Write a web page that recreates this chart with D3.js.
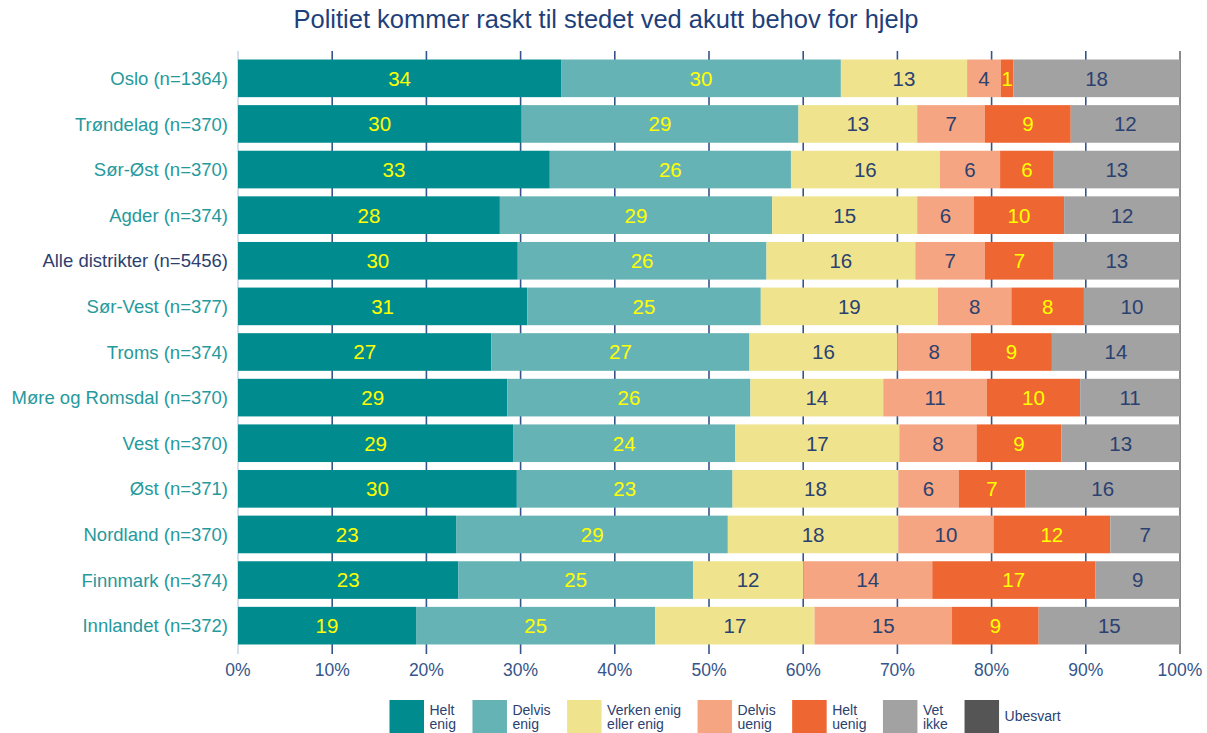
<!DOCTYPE html>
<html>
<head>
<meta charset="utf-8">
<script src="https://cdn.jsdelivr.net/npm/d3@7"></script>
<style>
  body { margin: 0; background: #fff; }
  text { font-family: "Liberation Sans", Arial, sans-serif; }
</style>
</head>
<body>
<script>
var width = 1207, height = 733;

var categories = ["Oslo (n=1364)", "Trøndelag (n=370)", "Sør-Øst (n=370)", "Agder (n=374)",
    "Alle distrikter (n=5456)", "Sør-Vest (n=377)", "Troms (n=374)", "Møre og Romsdal (n=370)",
    "Vest (n=370)", "Øst (n=371)", "Nordland (n=370)", "Finnmark (n=374)", "Innlandet (n=372)"];
var heltEnig    = [34.3, 30.1, 33.1, 27.8, 29.7, 30.7, 26.9, 28.6, 29.2, 29.6, 23.2, 23.4, 18.9];
var delvisEnig  = [29.7, 29.4, 25.6, 28.9, 26.4, 24.8, 27.4, 25.8, 23.6, 22.9, 28.8, 24.9, 25.4];
var verken      = [13.4, 12.6, 15.8, 15.4, 15.8, 18.8, 15.7, 14.1, 17.4, 17.6, 18.1, 11.7, 16.9];
var delvisUenig = [3.6, 7.2, 6.4, 6.0, 7.4, 7.8, 7.8, 11.0, 8.2, 6.4, 10.1, 13.7, 14.6];
var heltUenig   = [1.3, 9.1, 5.7, 9.6, 7.3, 7.7, 8.6, 9.9, 9.0, 7.1, 12.4, 17.3, 9.2];
var vetIkke     = [17.7, 11.6, 13.4, 12.3, 13.4, 10.2, 13.6, 10.6, 12.6, 16.4, 7.4, 9.0, 15.0];
var ubesvart    = [0, 0, 0, 0, 0, 0, 0, 0, 0, 0, 0, 0, 0];
var legendLabels = [["Helt", "enig"], ["Delvis", "enig"], ["Verken enig", "eller enig"],
    ["Delvis", "uenig"], ["Helt", "uenig"], ["Vet", "ikke"], ["Ubesvart"]];
var xTicks = [0, 10, 20, 30, 40, 50, 60, 70, 80, 90, 100];

var keys = ["heltEnig", "delvisEnig", "verken", "delvisUenig", "heltUenig", "vetIkke", "ubesvart"];
var colors = ["#008C8F", "#66B3B6", "#EFE48D", "#F5A582", "#EE6631", "#A2A2A2", "#555555"];
var labelColors = ["#FFFF00", "#FFFF00", "#2B4170", "#2B4170", "#FFFF00", "#2B4170", "#FFFFFF"];

var series = [heltEnig, delvisEnig, verken, delvisUenig, heltUenig, vetIkke, ubesvart];
var rows = categories.map(function (c, i) {
    var r = { name: c };
    keys.forEach(function (k, j) { r[k] = series[j][i]; });
    return r;
});

var svg = d3.select("body").append("svg")
    .attr("width", width)
    .attr("height", height);

svg.append("text")
    .attr("x", 606).attr("y", 28)
    .attr("text-anchor", "middle")
    .style("font-size", "25.5px")
    .style("fill", "#1F3F7A")
    .text("Politiet kommer raskt til stedet ved akutt behov for hjelp");

var x = d3.scaleLinear().domain([0, 100]).range([238, 1180]);
var y = d3.scaleBand().domain(categories).range([55.5, 648.5])
    .paddingInner(0.175).paddingOuter(0.088);

// gridlines behind the bars
svg.append("g").selectAll("line")
    .data(xTicks.slice(1))
    .enter().append("line")
    .attr("x1", function (d) { return x(d); })
    .attr("x2", function (d) { return x(d); })
    .attr("y1", 51).attr("y2", 654)
    .style("stroke", function (d) { return d === 100 ? "#6E6E6E" : "#35558A"; })
    .style("stroke-width", 1.6);

svg.append("line")
    .attr("x1", x(0)).attr("x2", x(0))
    .attr("y1", 51).attr("y2", 654)
    .style("stroke", "#C9D5E2")
    .style("stroke-width", 1.5);

var stacked = d3.stack().keys(keys)(rows);

var layers = svg.append("g").selectAll("g")
    .data(stacked)
    .enter().append("g")
    .style("fill", function (d, i) { return colors[i]; });

layers.selectAll("rect")
    .data(function (d) { return d; })
    .enter().append("rect")
    .attr("x", function (d) { return x(d[0]); })
    .attr("y", function (d) { return y(d.data.name); })
    .attr("width", function (d) { return x(d[1]) - x(d[0]); })
    .attr("height", y.bandwidth());

layers.each(function (layer, i) {
    d3.select(this).selectAll("text")
        .data(layer.filter(function (d) { return d[1] - d[0] > 0; }))
        .enter().append("text")
        .attr("x", function (d) { return (x(d[0]) + x(d[1])) / 2; })
        .attr("y", function (d) { return y(d.data.name) + y.bandwidth() / 2; })
        .attr("dy", "0.36em")
        .attr("text-anchor", "middle")
        .style("font-size", "20.5px")
        .style("fill", labelColors[i])
        .text(function (d) { return Math.round(d[1] - d[0]); });
});

// category labels
svg.append("g").selectAll("text")
    .data(categories)
    .enter().append("text")
    .attr("x", 228)
    .attr("y", function (d) { return y(d) + y.bandwidth() / 2; })
    .attr("dy", "0.36em")
    .attr("text-anchor", "end")
    .style("font-size", "18.5px")
    .style("fill", function (d) { return d.indexOf("Alle") === 0 ? "#2E3F6E" : "#26999C"; })
    .text(function (d) { return d; });

// x tick labels
svg.append("g").selectAll("text")
    .data(xTicks)
    .enter().append("text")
    .attr("x", function (d) { return x(d); })
    .attr("y", 676)
    .attr("text-anchor", "middle")
    .style("font-size", "17.5px")
    .style("fill", "#35558A")
    .text(function (d) { return d + "%"; });

// legend
var legend = svg.append("g");
var lx = 389.5;
legendLabels.forEach(function (lab, i) {
    var g = legend.append("g").attr("transform", "translate(" + lx + ",700)");
    g.append("rect")
        .attr("width", 34.5).attr("height", 33)
        .style("fill", colors[i]);
    var t = g.append("text")
        .attr("x", 40)
        .style("font-size", "14px")
        .style("fill", "#2B4170");
    if (lab.length === 2) {
        t.append("tspan").attr("x", 40).attr("y", 15).text(lab[0]);
        t.append("tspan").attr("x", 40).attr("y", 29).text(lab[1]);
    } else {
        t.attr("y", 21).text(lab[0]);
    }
    lx += 40 + t.node().getBBox().width + 16.5;
});
</script>
</body>
</html>
